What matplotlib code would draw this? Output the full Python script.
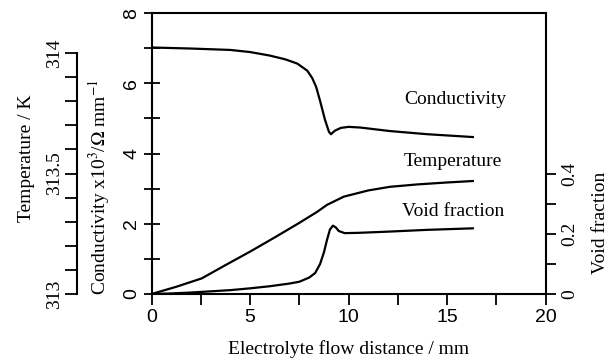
import matplotlib
matplotlib.use("Agg")
import matplotlib.pyplot as plt
import matplotlib.ticker as ticker

plt.rcParams['font.family'] = ['Liberation Serif', 'DejaVu Serif']
plt.rcParams['mathtext.fontset'] = 'stix'

# data
cond_x = [0, 2, 4, 5, 6, 6.8, 7.4, 7.9, 8.15, 8.35, 8.55, 8.8, 9.0, 9.1, 9.3,
          9.6, 10.0, 10.6, 12.1, 14, 16.3]
cond_y = [7.02, 6.99, 6.95, 6.89, 6.79, 6.68, 6.56, 6.36, 6.15, 5.9, 5.5,
          4.96, 4.62, 4.55, 4.65, 4.73, 4.76, 4.74, 4.64, 4.55, 4.47]

temp_x = [0, 1.25, 2.55, 3.75, 5.0, 6.25, 7.45, 8.4, 8.9, 9.75, 11, 12.1,
          13.5, 15, 16.3]
temp_y = [313.0, 313.03, 313.065, 313.12, 313.176, 313.235, 313.293, 313.341,
          313.37, 313.404, 313.43, 313.445, 313.455, 313.463, 313.469]

void_x = [0, 1, 2, 3, 4, 5, 6, 7, 7.5, 8.0, 8.3, 8.55, 8.75, 8.9, 9.05, 9.2,
          9.35, 9.5, 9.8, 10.5, 12, 14, 16.3]
void_y = [0.0, 0.002, 0.005, 0.009, 0.013, 0.019, 0.026, 0.035, 0.041, 0.055,
          0.07, 0.10, 0.14, 0.18, 0.215, 0.228, 0.222, 0.21, 0.203, 0.204,
          0.208, 0.214, 0.219]

x_ticks = [0, 5, 10, 15, 20]
cond_ticks = [0, 2, 4, 6, 8]
temp_ticks = [313, 313.5, 314]
void_ticks = [0, 0.2, 0.4]

line_kw = dict(color='black', linewidth=1.6)
sans = 'Liberation Sans'
fs = 14

fig = plt.figure(figsize=(6.16, 3.63), dpi=100)
ax = fig.add_axes([0.246, 0.190, 0.640, 0.774])

# conductivity (main axis)
ax.set_xlim(0, 20)
ax.set_ylim(0, 8)
ax.plot(cond_x, cond_y, **line_kw)
ax.xaxis.set_major_locator(ticker.FixedLocator(x_ticks))
ax.xaxis.set_minor_locator(ticker.MultipleLocator(2.5))
ax.yaxis.set_major_locator(ticker.FixedLocator(cond_ticks))
ax.yaxis.set_minor_locator(ticker.MultipleLocator(1))
ax.tick_params(axis='x', which='both', direction='out', length=8, width=1.3,
               labelsize=fs, pad=3)
ax.tick_params(axis='y', which='both', direction='inout', length=12, width=1.3,
               labelsize=fs, pad=2, labelrotation=90, right=False)
for lab in ax.get_xticklabels() + ax.get_yticklabels():
    lab.set_family(sans)
for lab in ax.get_yticklabels():
    lab.set_va('center')
for s in ax.spines.values():
    s.set_linewidth(1.5)
ax.set_xlabel('Electrolyte flow distance / mm', fontsize=fs)
ax.xaxis.set_label_coords(0.5, -0.165)
ax.set_ylabel('Conductivity x10$^{3}$/$\\Omega$ mm$^{-1}$', fontsize=fs)
ax.yaxis.set_label_coords(-0.1, 0.38)

ax.text(15.4, 5.53, 'Conductivity', fontsize=fs, ha='center', va='center')
ax.text(15.3, 3.76, 'Temperature', fontsize=fs, ha='center', va='center')
ax.text(15.3, 2.36, 'Void fraction', fontsize=fs, ha='center', va='center')

# temperature axis, offset to the left
axt = ax.twinx()
axt.set_ylim(313, 313 + 281 / 241)
axt.plot(temp_x, temp_y, **line_kw)
axt.yaxis.set_ticks_position('left')
axt.yaxis.set_label_position('left')
axt.spines['left'].set_position(('axes', -0.189))
axt.spines['left'].set_bounds(313, 314)
axt.spines['left'].set_linewidth(1.5)
for side in ['right', 'top', 'bottom']:
    axt.spines[side].set_visible(False)
axt.yaxis.set_major_locator(ticker.FixedLocator(temp_ticks))
axt.yaxis.set_minor_locator(ticker.FixedLocator(
    [313.1, 313.2, 313.3, 313.4, 313.6, 313.7, 313.8, 313.9]))
axt.yaxis.set_major_formatter(ticker.FixedFormatter(['313', '313.5', '314']))
axt.tick_params(axis='y', which='both', direction='out', length=9, width=1.3,
                labelsize=fs, pad=1, labelrotation=90)
for lab in axt.get_yticklabels():
    lab.set_va('center')
axt.set_ylabel('Temperature / K', fontsize=fs)
axt.yaxis.set_label_coords(-0.295, 0.484)

# void fraction axis on the right
axv = ax.twinx()
axv.set_ylim(0, 281 / 300)
axv.plot(void_x, void_y, **line_kw)
for side in ['left', 'right', 'top', 'bottom']:
    axv.spines[side].set_visible(False)
axv.yaxis.set_major_locator(ticker.FixedLocator(void_ticks))
axv.yaxis.set_minor_locator(ticker.FixedLocator([0.1, 0.3]))
axv.yaxis.set_major_formatter(ticker.FixedFormatter(['0', '0.2', '0.4']))
axv.tick_params(axis='y', which='both', direction='out', length=7, width=1.3,
                labelsize=fs, pad=4, labelrotation=90)
for lab in axv.get_yticklabels():
    lab.set_va('center')
axv.set_ylabel('Void fraction', fontsize=fs)
axv.yaxis.set_label_coords(1.117, 0.253)

fig.savefig('out.png', dpi=100)
